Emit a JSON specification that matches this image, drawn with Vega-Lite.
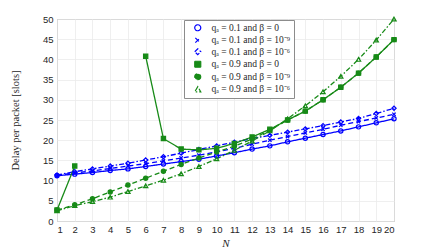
{
  "$schema": "https://vega.github.io/schema/vega-lite/v6.json",
  "autosize": "none",
  "width": 337,
  "height": 202,
  "padding": {"left": 57, "top": 19, "right": 42, "bottom": 28},
  "background": "white",
  "config": {
    "view": {"stroke": "#9a9a9a", "strokeWidth": 1},
    "axis": {
      "labelFont": "Liberation Sans", "labelFontSize": 9.5, "labelColor": "#262626",
      "gridColor": "#ebebeb", "gridWidth": 0.8, "domain": false, "ticks": false,
      "titleFont": "Liberation Serif", "titleFontWeight": "normal", "titleColor": "#262626"
    }
  },
  "datasets": {
    "d": [
      {"N":1,"s":"b0","v":11.2},{"N":2,"s":"b0","v":11.6},{"N":3,"s":"b0","v":12.0},{"N":4,"s":"b0","v":12.5},{"N":5,"s":"b0","v":12.9},{"N":6,"s":"b0","v":13.5},{"N":7,"s":"b0","v":14.1},{"N":8,"s":"b0","v":14.7},{"N":9,"s":"b0","v":15.3},{"N":10,"s":"b0","v":16.1},{"N":11,"s":"b0","v":16.9},{"N":12,"s":"b0","v":17.8},{"N":13,"s":"b0","v":18.6},{"N":14,"s":"b0","v":19.6},{"N":15,"s":"b0","v":20.5},{"N":16,"s":"b0","v":21.4},{"N":17,"s":"b0","v":22.3},{"N":18,"s":"b0","v":23.3},{"N":19,"s":"b0","v":24.3},{"N":20,"s":"b0","v":25.3},
      {"N":1,"s":"b9","v":11.3},{"N":2,"s":"b9","v":11.9},{"N":3,"s":"b9","v":12.4},{"N":4,"s":"b9","v":13.0},{"N":5,"s":"b9","v":13.6},{"N":6,"s":"b9","v":14.2},{"N":7,"s":"b9","v":14.9},{"N":8,"s":"b9","v":15.6},{"N":9,"s":"b9","v":16.3},{"N":10,"s":"b9","v":17.1},{"N":11,"s":"b9","v":18.0},{"N":12,"s":"b9","v":19.0},{"N":13,"s":"b9","v":20.0},{"N":14,"s":"b9","v":20.9},{"N":15,"s":"b9","v":21.8},{"N":16,"s":"b9","v":22.7},{"N":17,"s":"b9","v":23.7},{"N":18,"s":"b9","v":24.6},{"N":19,"s":"b9","v":25.5},{"N":20,"s":"b9","v":26.4},
      {"N":1,"s":"b6","v":11.4},{"N":2,"s":"b6","v":12.2},{"N":3,"s":"b6","v":12.9},{"N":4,"s":"b6","v":13.6},{"N":5,"s":"b6","v":14.3},{"N":6,"s":"b6","v":15.1},{"N":7,"s":"b6","v":15.9},{"N":8,"s":"b6","v":16.8},{"N":9,"s":"b6","v":17.7},{"N":10,"s":"b6","v":18.6},{"N":11,"s":"b6","v":19.5},{"N":12,"s":"b6","v":20.4},{"N":13,"s":"b6","v":21.2},{"N":14,"s":"b6","v":22.0},{"N":15,"s":"b6","v":22.8},{"N":16,"s":"b6","v":23.6},{"N":17,"s":"b6","v":24.5},{"N":18,"s":"b6","v":25.4},{"N":19,"s":"b6","v":26.6},{"N":20,"s":"b6","v":27.9},
      {"N":1,"s":"g0","v":2.7},{"N":2,"s":"g0","v":13.6},{"N":3,"s":"g0","v":null},{"N":4,"s":"g0","v":null},{"N":5,"s":"g0","v":null},{"N":6,"s":"g0","v":40.8},{"N":7,"s":"g0","v":20.4},{"N":8,"s":"g0","v":17.8},{"N":9,"s":"g0","v":17.6},{"N":10,"s":"g0","v":18.0},{"N":11,"s":"g0","v":19.2},{"N":12,"s":"g0","v":20.8},{"N":13,"s":"g0","v":22.7},{"N":14,"s":"g0","v":25.0},{"N":15,"s":"g0","v":27.2},{"N":16,"s":"g0","v":30.0},{"N":17,"s":"g0","v":33.1},{"N":18,"s":"g0","v":36.6},{"N":19,"s":"g0","v":40.6},{"N":20,"s":"g0","v":44.9},
      {"N":1,"s":"g9","v":2.7},{"N":2,"s":"g9","v":4.0},{"N":3,"s":"g9","v":5.5},{"N":4,"s":"g9","v":7.2},{"N":5,"s":"g9","v":8.9},{"N":6,"s":"g9","v":10.6},{"N":7,"s":"g9","v":12.3},{"N":8,"s":"g9","v":14.0},{"N":9,"s":"g9","v":15.6},{"N":10,"s":"g9","v":17.1},{"N":11,"s":"g9","v":18.5},{"N":12,"s":"g9","v":20.3},{"N":13,"s":"g9","v":22.5},{"N":14,"s":"g9","v":25.0},{"N":15,"s":"g9","v":27.2},{"N":16,"s":"g9","v":30.0},{"N":17,"s":"g9","v":33.1},{"N":18,"s":"g9","v":36.6},{"N":19,"s":"g9","v":40.6},{"N":20,"s":"g9","v":44.9},
      {"N":1,"s":"g6","v":2.5},{"N":2,"s":"g6","v":3.8},{"N":3,"s":"g6","v":4.8},{"N":4,"s":"g6","v":5.9},{"N":5,"s":"g6","v":7.3},{"N":6,"s":"g6","v":8.7},{"N":7,"s":"g6","v":10.1},{"N":8,"s":"g6","v":11.7},{"N":9,"s":"g6","v":13.5},{"N":10,"s":"g6","v":15.4},{"N":11,"s":"g6","v":17.5},{"N":12,"s":"g6","v":19.8},{"N":13,"s":"g6","v":22.3},{"N":14,"s":"g6","v":25.3},{"N":15,"s":"g6","v":28.5},{"N":16,"s":"g6","v":32.0},{"N":17,"s":"g6","v":35.8},{"N":18,"s":"g6","v":40.0},{"N":19,"s":"g6","v":44.8},{"N":20,"s":"g6","v":50.0}
    ]
  },
  "data": {"name": "d"},
  "encoding": {
    "x": {"field": "N", "type": "quantitative", "scale": {"domain": [1, 20], "nice": false},
      "axis": {"values": [1,2,3,4,5,6,7,8,9,10,11,12,13,14,15,16,17,18,19,20], "labelPadding": 3, "title": "N", "titleFontStyle": "italic", "titleFontSize": 11, "titleY": 22, "titleBaseline": "middle"}},
    "y": {"field": "v", "type": "quantitative", "scale": {"domain": [0, 50], "nice": false},
      "axis": {"values": [0,5,10,15,20,25,30,35,40,45,50], "labelPadding": 4, "title": "Delay per packet [slots]", "titleFontSize": 10.5, "titleX": -42, "titleY": 101, "titleAngle": -90, "titleAlign": "center", "titleBaseline": "middle"}}
  },
  "layer": [
    {
      "mark": {"type": "line", "strokeWidth": 1.3, "invalid": "break-paths-show-domains"},
      "encoding": {
        "stroke": {"field": "s", "type": "nominal",
          "scale": {"domain": ["b0","b9","b6","g0","g9","g6"], "range": ["#0000ff","#0000ff","#0000ff","#178a17","#178a17","#178a17"]},
          "legend": {
            "orient": "none", "legendX": 127, "legendY": 1, "title": null,
            "fillColor": "white", "strokeColor": "#8c8c8c", "padding": 3, "rowPadding": 0.5,
            "labelFont": "Liberation Serif", "labelFontSize": 9.5, "labelColor": "#262626", "labelOffset": 9,
            "symbolSize": 36, "symbolStrokeWidth": 1.2, "symbolOffset": 6,
            "labelExpr": "datum.value=='b0' ? 'qₐ = 0.1 and β = 0' : datum.value=='b9' ? 'qₐ = 0.1 and β = 10⁻⁹' : datum.value=='b6' ? 'qₐ = 0.1 and β = 10⁻⁶' : datum.value=='g0' ? 'qₐ = 0.9 and β = 0' : datum.value=='g9' ? 'qₐ = 0.9 and β = 10⁻⁹' : 'qₐ = 0.9 and β = 10⁻⁶'"
          }},
        "strokeDash": {"field": "s", "type": "nominal",
          "scale": {"domain": ["b0","b9","b6","g0","g9","g6"], "range": [[1,0],[5,3],[5,2,1.5,2],[1,0],[5,3],[5,2,1.5,2]]},
          "legend": null}
      }
    },
    {
      "mark": {"type": "point", "size": 18, "strokeWidth": 1.2, "opacity": 1},
      "encoding": {
        "stroke": {"field": "s", "type": "nominal"},
        "fill": {"field": "s", "type": "nominal",
          "scale": {"domain": ["b0","b9","b6","g0","g9","g6"], "range": ["transparent","transparent","transparent","#178a17","#178a17","transparent"]},
          "legend": null},
        "shape": {"field": "s", "type": "nominal",
          "scale": {"domain": ["b0","b9","b6","g0","g9","g6"], "range": ["circle","M-0.8,-0.8L0.8,0.8M-0.8,0.8L0.8,-0.8","diamond","square","circle","triangle-up"]},
          "legend": null}
      }
    }
  ]
}
